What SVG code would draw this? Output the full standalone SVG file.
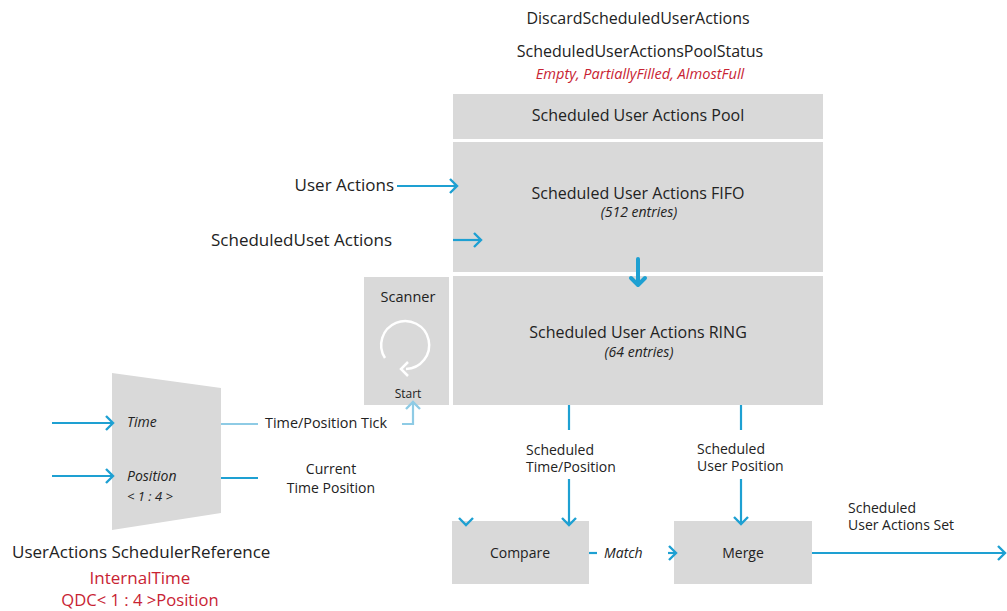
<svg xmlns="http://www.w3.org/2000/svg" width="1007" height="611" viewBox="0 0 1007 611">
<defs>
<style>
text{font-family:"Source Sans Pro","Open Sans","Liberation Sans",sans-serif;fill:#222;}
.t17{font-size:17px;}
.t16{font-size:16px;}
.t14{font-size:14px;}
.t13{font-size:13px;}
.t12{font-size:12px;}
.it{font-style:italic;}
.red{fill:#c82333;}
.mid{text-anchor:middle;}
.box{fill:#d9d9d9;}
.ln{stroke:#1ea0d2;stroke-width:2.2;fill:none;}
.lt{stroke:#8ecbe5;stroke-width:2.2;fill:none;}
</style>
<marker id="ah" markerUnits="userSpaceOnUse" markerWidth="14" markerHeight="16" refX="9" refY="8" orient="auto">
<path d="M2,1 L9,8 L2,15" fill="none" stroke="#1ea0d2" stroke-width="2.4"/>
</marker>
<marker id="ahl" markerUnits="userSpaceOnUse" markerWidth="14" markerHeight="16" refX="9" refY="8" orient="auto">
<path d="M2,1 L9,8 L2,15" fill="none" stroke="#8ecbe5" stroke-width="2.4"/>
</marker>
</defs>
<rect width="1007" height="611" fill="#fff"/>

<g id="labels-top">
<text class="t16 mid" x="638" y="24">DiscardScheduledUserActions</text>
<text class="t16 mid" x="640" y="57">ScheduledUserActionsPoolStatus</text>
<text class="mid it red" style="font-size:14.6px" x="640" y="79">Empty, PartiallyFilled, AlmostFull</text>
</g>

<g id="pool">
<rect class="box" x="453" y="94" width="370" height="45"/>
<text class="t16 mid" x="638" y="121">Scheduled User Actions Pool</text>
</g>
<g id="fifo">
<rect class="box" x="453" y="142" width="370" height="130"/>
<text class="t16 mid" x="638" y="199">Scheduled User Actions FIFO</text>
<text class="mid it" style="font-size:14px" x="639" y="217">(512 entries)</text>
</g>
<g id="ring">
<rect class="box" x="453" y="276" width="370" height="129"/>
<text class="t16 mid" x="638" y="338">Scheduled User Actions RING</text>
<text class="mid it" style="font-size:14px" x="639" y="357">(64 entries)</text>
</g>
<g id="scanner">
<rect class="box" x="364" y="277" width="85" height="128"/>
<text class="mid" style="font-size:14.5px" x="408" y="302">Scanner</text>
<path d="M385,358 A24,24 0 1 1 406,369" fill="none" stroke="#fff" stroke-width="2.5"/>
<path d="M408,362 L401,369 L408,376" fill="none" stroke="#fff" stroke-width="2.5"/>
<text class="t12 mid" x="408" y="398">Start</text>
</g>
<g id="reference">
<polygon class="box" points="112,373 221,388 221,513 112,530"/>
<text class="t14 it" x="127" y="427">Time</text>
<text class="t14 it" x="127" y="481">Position</text>
<text class="t13 it" x="127" y="501">&lt; 1 : 4 &gt;</text>
</g>
<g id="compare">
<rect class="box" x="452" y="521" width="137" height="63"/>
<text class="t14 mid" x="520" y="558">Compare</text>
</g>
<g id="merge">
<rect class="box" x="674" y="521" width="138" height="63"/>
<text class="t14 mid" x="743" y="558">Merge</text>
</g>

<g id="other-labels">
<text class="t17" x="394" y="191" text-anchor="end">User Actions</text>
<text class="t17" x="392" y="246" text-anchor="end">ScheduledUset Actions</text>
<text style="font-size:14.4px" x="265" y="428">Time/Position Tick</text>
<text class="t14 mid" x="331" y="474">Current</text>
<text class="t14 mid" x="331" y="493">Time Position</text>
<text class="t14" x="526" y="455">Scheduled</text>
<text class="t14" x="526" y="472">Time/Position</text>
<text class="t14" x="697" y="454">Scheduled</text>
<text class="t14" x="697" y="471">User Position</text>
<text class="t14 it" x="604" y="558">Match</text>
<text class="t14" x="848" y="513">Scheduled</text>
<text class="t14" x="848" y="530">User Actions Set</text>
<text class="t17" x="12" y="558">UserActions SchedulerReference</text>
<text class="mid red" style="font-size:17px" x="140" y="584">InternalTime</text>
<text class="mid red" style="font-size:16.6px" x="140" y="606">QDC&lt; 1 : 4 &gt;Position</text>
</g>

<g id="connectors">
<line class="ln" x1="397" y1="186" x2="457" y2="186" marker-end="url(#ah)"/>
<line class="ln" x1="453" y1="240" x2="481" y2="240" marker-end="url(#ah)"/>
<line x1="638" y1="259" x2="638" y2="284" stroke="#1ea0d2" stroke-width="4" stroke-linecap="round"/>
<path d="M631,278 L638,285 L645,278" fill="none" stroke="#1ea0d2" stroke-width="4" stroke-linecap="round" stroke-linejoin="round"/>
<line class="ln" x1="52" y1="423" x2="113" y2="423" marker-end="url(#ah)"/>
<line class="ln" x1="52" y1="476" x2="113" y2="476" marker-end="url(#ah)"/>
<line class="lt" x1="221" y1="424" x2="258" y2="424"/>
<path class="lt" d="M402,424 L413,424 L413,402" marker-end="url(#ahl)"/>
<line class="ln" x1="221" y1="478" x2="258" y2="478"/>
<line class="ln" x1="569" y1="405" x2="569" y2="430"/>
<line class="ln" x1="569" y1="479" x2="569" y2="525" marker-end="url(#ah)"/>
<line class="ln" x1="741" y1="405" x2="741" y2="430"/>
<line class="ln" x1="741" y1="479" x2="741" y2="524" marker-end="url(#ah)"/>
<path d="M459,518 L466,525 L473,518" fill="none" stroke="#1ea0d2" stroke-width="2.4"/>
<line class="ln" x1="589" y1="553" x2="597" y2="553"/>
<path d="M669,546 L676,553 L669,560" fill="none" stroke="#1ea0d2" stroke-width="2.4"/>
<line class="ln" x1="668" y1="553" x2="675" y2="553"/>
<line class="ln" x1="812" y1="553" x2="1005" y2="553" marker-end="url(#ah)"/>
</g>
</svg>
